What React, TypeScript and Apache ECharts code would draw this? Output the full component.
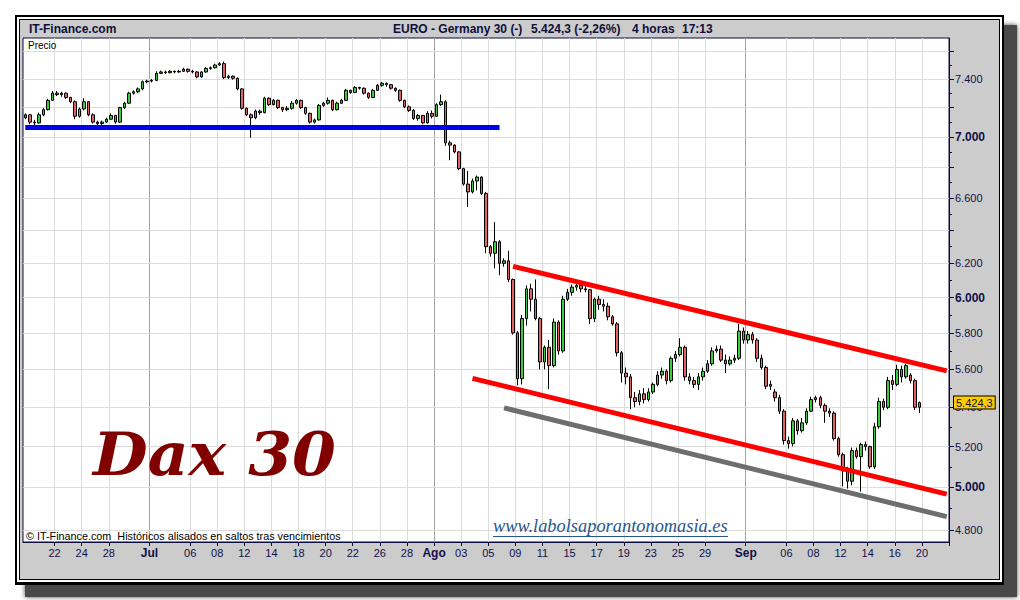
import React, { useEffect, useRef } from 'react';
import * as echarts from 'echarts';

// Trading days shown on the axis and the tick label printed at the start of each day
const dayAxis: [string, string][] = [
  ['06-17', ''], ['06-20', ''], ['06-21', ''], ['06-22', '22'], ['06-23', ''], ['06-24', '24'], ['06-27', ''], ['06-28', '28'], ['06-29', ''], ['06-30', ''],
  ['07-01', 'Jul'], ['07-04', ''], ['07-05', ''], ['07-06', '06'], ['07-07', ''], ['07-08', '08'], ['07-11', ''], ['07-12', '12'], ['07-13', ''], ['07-14', '14'], ['07-15', ''],
  ['07-18', '18'], ['07-19', ''], ['07-20', '20'], ['07-21', ''], ['07-22', '22'], ['07-25', ''], ['07-26', '26'], ['07-27', ''], ['07-28', '28'], ['07-29', ''],
  ['08-01', 'Ago'], ['08-02', ''], ['08-03', '03'], ['08-04', ''], ['08-05', '05'], ['08-08', ''], ['08-09', '09'], ['08-10', ''], ['08-11', '11'], ['08-12', ''],
  ['08-15', '15'], ['08-16', ''], ['08-17', '17'], ['08-18', ''], ['08-19', '19'], ['08-22', ''], ['08-23', '23'], ['08-24', ''], ['08-25', '25'], ['08-26', ''],
  ['08-29', '29'], ['08-30', ''], ['08-31', ''],
  ['09-01', 'Sep'], ['09-02', ''], ['09-05', ''], ['09-06', '06'], ['09-07', ''], ['09-08', '08'], ['09-09', ''], ['09-12', '12'], ['09-13', ''], ['09-14', '14'],
  ['09-15', ''], ['09-16', '16'], ['09-19', ''], ['09-20', '20'], ['09-21', ''],
];
const monthLabels = ['Jul', 'Ago', 'Sep'];

// 4-hour candles per day: [open, high, low, close]
const ohlcByDay: [string, number[][]][] = [
  ['06-17', [[7130, 7160, 7120, 7150]]],
  ['06-20', [[7150, 7155, 7085, 7100], [7100, 7115, 7080, 7095], [7095, 7165, 7090, 7150]]],
  ['06-21', [[7150, 7195, 7140, 7185], [7185, 7260, 7180, 7250], [7250, 7315, 7245, 7300]]],
  ['06-22', [[7300, 7315, 7280, 7290], [7290, 7310, 7275, 7300], [7300, 7305, 7260, 7270]]],
  ['06-23', [[7270, 7275, 7230, 7240], [7240, 7250, 7120, 7140], [7140, 7200, 7130, 7190]]],
  ['06-24', [[7190, 7265, 7180, 7240], [7240, 7245, 7140, 7150], [7150, 7160, 7090, 7100]]],
  ['06-27', [[7100, 7110, 7080, 7090], [7090, 7110, 7080, 7100], [7100, 7130, 7095, 7120]]],
  ['06-28', [[7120, 7160, 7115, 7145], [7145, 7150, 7090, 7100], [7100, 7205, 7095, 7200]]],
  ['06-29', [[7200, 7240, 7190, 7230], [7230, 7310, 7225, 7300], [7300, 7320, 7290, 7310]]],
  ['06-30', [[7310, 7340, 7300, 7330], [7330, 7390, 7320, 7380], [7380, 7395, 7370, 7385]]],
  ['07-01', [[7385, 7400, 7375, 7390], [7390, 7455, 7385, 7440], [7440, 7460, 7435, 7450]]],
  ['07-04', [[7450, 7460, 7435, 7445], [7445, 7465, 7440, 7455], [7455, 7460, 7440, 7450]]],
  ['07-05', [[7450, 7465, 7445, 7455], [7455, 7480, 7450, 7470], [7470, 7475, 7445, 7455]]],
  ['07-06', [[7455, 7465, 7440, 7450], [7450, 7455, 7405, 7415], [7415, 7455, 7410, 7450]]],
  ['07-07', [[7450, 7485, 7445, 7475], [7475, 7490, 7465, 7480], [7480, 7510, 7475, 7500]]],
  ['07-08', [[7500, 7520, 7495, 7510], [7510, 7525, 7400, 7410], [7410, 7430, 7400, 7420]]],
  ['07-11', [[7420, 7425, 7395, 7405], [7405, 7410, 7320, 7330], [7330, 7335, 7185, 7195]]],
  ['07-12', [[7195, 7200, 7140, 7150], [7150, 7160, 6995, 7130], [7130, 7185, 7120, 7175]]],
  ['07-13', [[7175, 7185, 7150, 7165], [7165, 7275, 7160, 7265], [7265, 7270, 7210, 7220]]],
  ['07-14', [[7220, 7260, 7215, 7250], [7250, 7255, 7190, 7200], [7200, 7205, 7170, 7185]]],
  ['07-15', [[7185, 7210, 7175, 7195], [7195, 7245, 7185, 7230], [7230, 7260, 7220, 7250]]],
  ['07-18', [[7250, 7255, 7190, 7200], [7200, 7205, 7150, 7160], [7160, 7165, 7090, 7100]]],
  ['07-19', [[7100, 7125, 7090, 7115], [7115, 7225, 7110, 7215], [7215, 7240, 7205, 7230]]],
  ['07-20', [[7230, 7270, 7220, 7250], [7250, 7255, 7175, 7185], [7185, 7240, 7180, 7230]]],
  ['07-21', [[7230, 7260, 7225, 7250], [7250, 7330, 7245, 7320], [7320, 7325, 7295, 7305]]],
  ['07-22', [[7305, 7350, 7300, 7340], [7340, 7345, 7325, 7335], [7335, 7340, 7290, 7300]]],
  ['07-25', [[7300, 7305, 7260, 7270], [7270, 7330, 7265, 7320], [7320, 7365, 7315, 7355]]],
  ['07-26', [[7355, 7380, 7345, 7370], [7370, 7375, 7345, 7360], [7360, 7365, 7325, 7335]]],
  ['07-27', [[7335, 7340, 7310, 7320], [7320, 7325, 7240, 7250], [7250, 7255, 7195, 7205]]],
  ['07-28', [[7205, 7215, 7170, 7180], [7180, 7190, 7115, 7125], [7125, 7155, 7110, 7145]]],
  ['07-29', [[7145, 7150, 7085, 7095], [7095, 7175, 7090, 7160], [7160, 7180, 7125, 7140]]],
  ['08-01', [[7140, 7230, 7135, 7220], [7220, 7290, 7210, 7240], [7240, 7250, 6940, 6960]]],
  ['08-02', [[6960, 6975, 6845, 6945], [6945, 6950, 6890, 6900], [6900, 6905, 6780, 6790]]],
  ['08-03', [[6790, 6795, 6680, 6690], [6690, 6775, 6545, 6640], [6640, 6725, 6630, 6710]]],
  ['08-04', [[6710, 6745, 6650, 6735], [6735, 6740, 6620, 6630], [6630, 6640, 6260, 6300]]],
  ['08-05', [[6300, 6310, 6240, 6260], [6260, 6450, 6170, 6330], [6330, 6340, 6130, 6200]]],
  ['08-08', [[6200, 6230, 6180, 6215], [6215, 6275, 6090, 6105], [6105, 6110, 5790, 5800]]],
  ['08-09', [[5800, 5810, 5515, 5550], [5550, 5900, 5520, 5880], [5880, 6070, 5840, 6050]]],
  ['08-10', [[6050, 6080, 5920, 5990], [5990, 6105, 5870, 5880], [5880, 5890, 5600, 5640]]],
  ['08-11', [[5640, 5730, 5600, 5720], [5720, 5760, 5495, 5620], [5620, 5880, 5610, 5860]]],
  ['08-12', [[5860, 5870, 5680, 5700], [5700, 6010, 5690, 5990], [5990, 6050, 5980, 6030]]],
  ['08-15', [[6030, 6075, 6010, 6060], [6060, 6090, 6040, 6070], [6070, 6085, 6030, 6050]]],
  ['08-16', [[6050, 6065, 6030, 6045], [6045, 6050, 5850, 5880], [5880, 6000, 5860, 5990]]],
  ['08-17', [[5990, 6010, 5930, 5960], [5960, 5990, 5920, 5950], [5950, 5970, 5870, 5890]]],
  ['08-18', [[5890, 5900, 5840, 5850], [5850, 5860, 5670, 5690], [5690, 5700, 5530, 5580]]],
  ['08-19', [[5580, 5610, 5520, 5560], [5560, 5575, 5390, 5450], [5450, 5480, 5400, 5430]]],
  ['08-22', [[5430, 5490, 5410, 5470], [5470, 5500, 5420, 5440], [5440, 5500, 5430, 5480]]],
  ['08-23', [[5480, 5530, 5470, 5520], [5520, 5590, 5510, 5570], [5570, 5610, 5550, 5590]]],
  ['08-24', [[5590, 5600, 5520, 5540], [5540, 5670, 5530, 5660], [5660, 5700, 5640, 5680]]],
  ['08-25', [[5680, 5770, 5670, 5720], [5720, 5730, 5540, 5560], [5560, 5580, 5520, 5540]]],
  ['08-26', [[5540, 5560, 5500, 5520], [5520, 5580, 5490, 5560], [5560, 5610, 5540, 5590]]],
  ['08-29', [[5590, 5650, 5580, 5630], [5630, 5720, 5620, 5700], [5700, 5730, 5690, 5710]]],
  ['08-30', [[5710, 5730, 5640, 5650], [5650, 5680, 5580, 5630], [5630, 5670, 5620, 5650]]],
  ['08-31', [[5650, 5680, 5635, 5660], [5660, 5850, 5650, 5810], [5810, 5830, 5740, 5760]]],
  ['09-01', [[5760, 5810, 5740, 5790], [5790, 5805, 5740, 5760], [5760, 5770, 5640, 5660]]],
  ['09-02', [[5660, 5680, 5600, 5610], [5610, 5620, 5495, 5510], [5510, 5540, 5490, 5520]]],
  ['09-05', [[5480, 5495, 5430, 5450], [5450, 5465, 5365, 5380], [5380, 5390, 5210, 5230]]],
  ['09-06', [[5230, 5250, 5190, 5215], [5215, 5345, 5200, 5330], [5330, 5340, 5260, 5280]]],
  ['09-07', [[5280, 5345, 5270, 5320], [5320, 5395, 5310, 5380], [5380, 5455, 5375, 5440]]],
  ['09-08', [[5440, 5460, 5425, 5450], [5450, 5460, 5395, 5410], [5410, 5420, 5320, 5380]]],
  ['09-09', [[5380, 5395, 5350, 5370], [5370, 5380, 5230, 5240], [5240, 5250, 5150, 5160]]],
  ['09-12', [[5160, 5170, 5005, 5080], [5080, 5100, 4995, 5030], [5030, 5195, 5010, 5180]]],
  ['09-13', [[5180, 5195, 5140, 5150], [5150, 5220, 4980, 5210], [5210, 5225, 5180, 5200]]],
  ['09-14', [[5200, 5205, 5090, 5100], [5100, 5320, 5090, 5300], [5300, 5450, 5290, 5430]]],
  ['09-15', [[5430, 5445, 5385, 5400], [5400, 5560, 5390, 5540], [5540, 5570, 5490, 5520]]],
  ['09-16', [[5520, 5625, 5510, 5600], [5600, 5620, 5530, 5560], [5560, 5630, 5550, 5620]]],
  ['09-19', [[5570, 5580, 5525, 5540], [5540, 5550, 5385, 5400], [5400, 5430, 5370, 5424.3]]],
];

// Price axis (logarithmic)
const yAxisMin = 4745;
const yAxisMax = 7697;
const yLabelValues = [4800, 5000, 5200, 5400, 5600, 5800, 6000, 6200, 6600, 7000, 7400];
const yBoldValues = [5000, 6000, 7000];
const yGridValues = [4800, 5000, 5200, 5400, 5600, 5800, 6000, 6200, 6400, 6600, 6800, 7000, 7200, 7400, 7600];
const yMinorValues = [4800, 4900, 5000, 5100, 5200, 5300, 5400, 5500, 5600, 5700, 5800, 5900, 6000, 6100, 6200, 6300, 6400, 6500, 6600, 6700, 6800, 6900, 7000, 7100, 7200, 7300, 7400, 7500, 7600];

// Trend lines: [day, candle slot, price] -> [day, candle slot, price]
const trendLines: [[string, number, number], [string, number, number]][] = [
  [['06-17', 1, 7065], ['08-05', 3, 7065]],
  [['08-08', 3, 6182], ['09-21', 3, 5592]],
  [['08-03', 3, 5552], ['09-21', 3, 4968]],
  [['08-08', 1, 5397], ['09-21', 3, 4862]],
];
const trendColors = ['#0000ee', '#ff0000', '#ff0000', '#6e6e6e'];

const SANS = "'Liberation Sans', Arial, sans-serif";
const NAVY = '#10104a';
const L = (p: number) => Math.log(p);

function fmtThousands(p: number) {
  const s = String(Math.round(p));
  return s.slice(0, s.length - 3) + '.' + s.slice(-3);
}
function fmtPrice(v: number) {
  const r = Math.round(v * 10) / 10;
  const i = Math.floor(r);
  const d = Math.round((r - i) * 10);
  return fmtThousands(i) + ',' + d;
}

export default function App() {
  const ref = useRef<HTMLDivElement>(null);
  useEffect(() => {
    if (!ref.current) return;
    const chart = echarts.init(ref.current, null, { renderer: 'svg' });
    const ohlcMap = new Map(ohlcByDay);
    const categories: string[] = [];
    const labelAt = new Map<number, string>();
    const data: any[] = [];
    dayAxis.forEach(([day, lab]) => {
      const bars = ohlcMap.get(day) || [];
      const n = bars.length || 3;
      for (let s = 0; s < n; s++) {
        if (s === 0 && lab) labelAt.set(categories.length, lab);
        categories.push(`${day} #${s + 1}`);
        const b = bars[s];
        data.push(b ? [L(b[0]), L(b[3]), L(b[2]), L(b[1])] : '-');
      }
    });
    const lastDay = ohlcByDay[ohlcByDay.length - 1][1];
    const lastClose = lastDay[lastDay.length - 1][3];
    const isLabel = (i: number) => labelAt.has(i);
    const isMonth = (i: number) => labelAt.has(i) && monthLabels.includes(labelAt.get(i) as string);

    const txt = (id: string, x: number, y: number, text: string, font: any, fill: string, extra: any = {}) => ({
      id, type: 'text', x, y, z: 50, silent: true, ...extra,
      style: { text, fill, ...font, align: 'left', verticalAlign: 'middle', textAlign: 'left', textVerticalAlign: 'middle' },
    });

    const graphics: any[] = [
      { id: 'shadow', type: 'rect', z: -20, silent: true, shape: { x: 25, y: 25, width: 992, height: 572 }, style: { fill: '#4a4a4a', shadowBlur: 5, shadowColor: '#4a4a4a' } },
      { id: 'outer', type: 'rect', z: -19, silent: true, shape: { x: 15, y: 15, width: 989, height: 570 }, style: { fill: '#000' } },
      { id: 'white', type: 'rect', z: -18, silent: true, shape: { x: 17, y: 17, width: 985, height: 565 }, style: { fill: '#fff' } },
      { id: 'inner', type: 'rect', z: -17, silent: true, shape: { x: 19, y: 19, width: 981, height: 561 }, style: { fill: '#000' } },
      { id: 'panel', type: 'rect', z: -16, silent: true, shape: { x: 20, y: 20, width: 979, height: 559 }, style: { fill: '#cccccc' } },
      txt('t1', 29, 29, 'IT-Finance.com', { fontSize: 12, fontWeight: 'bold', fontFamily: SANS }, '#0f0f3c'),
      txt('t2', 393, 29, 'EURO - Germany 30 (-)', { fontSize: 12, fontWeight: 'bold', fontFamily: SANS }, '#0f0f3c'),
      txt('t3', 531, 29, '5.424,3 (-2,26%)', { fontSize: 12, fontWeight: 'bold', fontFamily: SANS }, '#0f0f3c'),
      txt('t4', 632, 29, '4 horas', { fontSize: 12, fontWeight: 'bold', fontFamily: SANS }, '#0f0f3c'),
      txt('t5', 682, 29, '17:13', { fontSize: 12, fontWeight: 'bold', fontFamily: SANS }, '#0f0f3c'),
      txt('precio', 28, 45, 'Precio', { fontSize: 10, fontFamily: SANS }, '#000'),
      txt('copy', 26, 536, '© IT-Finance.com  Históricos alisados en saltos tras vencimientos', { fontSize: 10.8, fontFamily: SANS }, '#000'),
      txt('web', 493, 526, 'www.labolsaporantonomasia.es', { fontSize: 18.4, fontStyle: 'italic', fontFamily: "'Liberation Serif', 'DejaVu Serif', serif" }, '#28578e'),
      { id: 'webline', type: 'line', z: 50, silent: true, shape: { x1: 493, y1: 536.5, x2: 728, y2: 536.5 }, style: { stroke: '#28578e', lineWidth: 1 } },
      txt('dax', 93, 454, 'Dax 30', { fontSize: 59, fontWeight: 'bold', fontStyle: 'italic', fontFamily: "'DejaVu Serif', serif" }, '#800000', { scaleX: 1.07 }),
    ];

    const lineStyleOf = (i: number) => ({ color: trendColors[i], width: 5, type: 'solid', cap: 'butt' });

    const option: any = {
      animation: false,
      graphic: { elements: graphics },
      grid: {
        left: 23, top: 38, right: 71, bottom: 58, show: true,
        backgroundColor: '#ffffff', borderColor: '#0a0a3c', borderWidth: 1,
        containLabel: false, outerBoundsMode: 'none',
      },
      xAxis: [
        {
          type: 'category', data: categories, boundaryGap: true, gridIndex: 0,
          axisLine: { show: true, lineStyle: { color: '#0a0a3c', width: 1 } },
          axisTick: { show: true, length: 4, interval: (i: number) => isLabel(i), lineStyle: { color: '#0a0a3c' } },
          axisLabel: {
            show: true, interval: (i: number) => isLabel(i), margin: 5, hideOverlap: false,
            formatter: (_v: string, i: number) => {
              const l = labelAt.get(i);
              if (!l) return '';
              return monthLabels.includes(l) ? `{m|${l}}` : `{d|${l}}`;
            },
            rich: {
              d: { fontSize: 11, fontFamily: SANS, color: NAVY, padding: [0, 4.5, 0, 0] },
              m: { fontSize: 12, fontWeight: 'bold', fontFamily: SANS, color: NAVY, padding: [0, 4.5, 0, 0] },
            },
          },
          splitLine: { show: true, interval: (i: number) => isLabel(i) && !isMonth(i), lineStyle: { color: '#dcdcdc', width: 1 } },
        },
        {
          type: 'category', data: categories, boundaryGap: true, gridIndex: 0, position: 'bottom',
          axisLine: { show: false }, axisTick: { show: false }, axisLabel: { show: false },
          splitLine: { show: true, interval: (i: number) => isMonth(i), lineStyle: { color: '#a4a4a4', width: 1 } },
        },
      ],
      yAxis: [
        {
          type: 'value', position: 'right', min: L(yAxisMin), max: L(yAxisMax), gridIndex: 0, z: 1,
          axisLine: { show: true, onZero: false, lineStyle: { color: '#0a0a3c' } },
          axisTick: { show: true, length: 5, customValues: yGridValues.map(L), lineStyle: { color: '#0a0a3c' } },
          axisLabel: {
            show: true, margin: 6, customValues: yLabelValues.map(L),
            formatter: (v: number) => {
              const p = Math.round(Math.exp(v) / 100) * 100;
              const t = fmtThousands(p);
              return yBoldValues.includes(p) ? `{b|${t}}` : `{n|${t}}`;
            },
            rich: {
              n: { fontSize: 11, fontFamily: SANS, color: NAVY },
              b: { fontSize: 12, fontWeight: 'bold', fontFamily: SANS, color: NAVY },
            },
          },
          splitLine: { show: true, lineStyle: { color: '#dcdcdc', width: 1 } },
        },
        {
          type: 'value', position: 'right', min: L(yAxisMin), max: L(yAxisMax), gridIndex: 0, z: 5,
          axisLine: { show: false },
          axisTick: { show: true, length: 3, customValues: yMinorValues.map(L), lineStyle: { color: '#0a0a3c' } },
          axisLabel: {
            show: true, margin: 5, customValues: [L(lastClose)],
            formatter: (v: number) => fmtPrice(Math.exp(v)),
            fontSize: 11, fontFamily: SANS, color: NAVY,
            backgroundColor: '#ffcc00', borderColor: '#000', borderWidth: 1, padding: [1, 2, 0, 2],
          },
          splitLine: { show: false },
        },
      ],
      series: [
        {
          type: 'candlestick', xAxisIndex: 0, yAxisIndex: 0, data, barWidth: 3,
          itemStyle: { color: '#3ccc3c', color0: '#e06464', borderColor: '#000', borderColor0: '#000', borderColorDoji: '#000', borderWidth: 1 },
          emphasis: { disabled: true },
          markLine: {
            silent: true, symbol: ['none', 'none'], label: { show: false }, animation: false,
            emphasis: { disabled: true },
            data: trendLines.map((t, i) => [
              { coord: [`${t[0][0]} #${t[0][1]}`, L(t[0][2])], lineStyle: lineStyleOf(i) },
              { coord: [`${t[1][0]} #${t[1][1]}`, L(t[1][2])], lineStyle: lineStyleOf(i) },
            ]),
          },
        },
      ],
    };
    chart.setOption(option);

    return () => chart.dispose();
  }, []);

  return <div ref={ref} style={{ position: 'fixed', left: 0, top: 0, width: 1020, height: 600, background: '#ffffff' }} />;
}
